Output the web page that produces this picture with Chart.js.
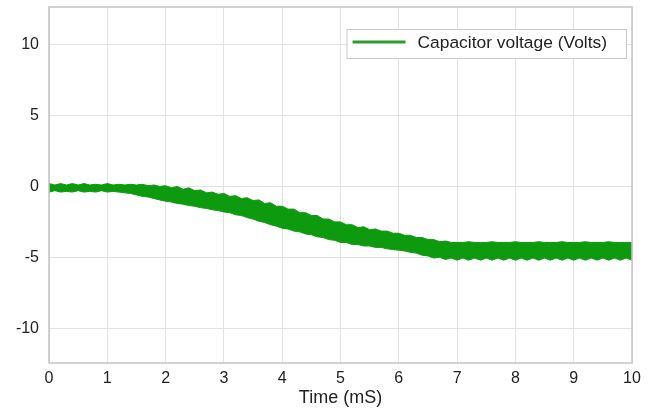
<!DOCTYPE html>
<html>
<head>
<meta charset="utf-8">
<script src="https://cdn.jsdelivr.net/npm/chart.js@4/dist/chart.umd.min.js"></script>
<style>
html,body{margin:0;padding:0;background:#fff;}
</style>
</head>
<body>
<canvas id="chart_voltage" width="655" height="412"></canvas>
<script>
// time axis (mS)
var timeMs = [0,0.1,0.2,0.3,0.4,0.5,0.6,0.7,0.8,0.9,
  1,1.1,1.2,1.3,1.4,1.5,1.6,1.7,1.8,1.9,
  2,2.1,2.2,2.3,2.4,2.5,2.6,2.7,2.8,2.9,
  3,3.1,3.2,3.3,3.4,3.5,3.6,3.7,3.8,3.9,
  4,4.1,4.2,4.3,4.4,4.5,4.6,4.7,4.8,4.9,
  5,5.1,5.2,5.3,5.4,5.5,5.6,5.7,5.8,5.9,
  6,6.1,6.2,6.3,6.4,6.5,6.6,6.7,6.8,6.9,
  7,7.1,7.2,7.3,7.4,7.5,7.6,7.7,7.8,7.9,
  8,8.1,8.2,8.3,8.4,8.5,8.6,8.7,8.8,8.9,
  9,9.1,9.2,9.3,9.4,9.5,9.6,9.7,9.8,9.9,10];
// top of the ripple band (Volts)
var upperV = [0.2,0.1,0.2,0.1,0.2,0.1,0.2,0.1,0.15,0.1,
  0.2,0.1,0.15,0.1,0.15,0.1,0.15,0.05,0.1,0,
  0.05,-0.1,0,-0.2,-0.1,-0.3,-0.25,-0.45,-0.4,-0.55,
  -0.5,-0.7,-0.65,-0.85,-0.8,-1,-0.95,-1.2,-1.15,-1.4,
  -1.4,-1.6,-1.6,-1.85,-1.85,-2.05,-2.05,-2.3,-2.3,-2.5,
  -2.5,-2.7,-2.7,-2.9,-2.85,-3.05,-3,-3.15,-3.15,-3.3,
  -3.3,-3.45,-3.45,-3.6,-3.6,-3.75,-3.75,-3.9,-3.85,-3.95,
  -3.95,-3.95,-3.9,-3.95,-3.95,-3.95,-3.9,-3.95,-3.95,-3.95,
  -3.9,-3.95,-3.95,-3.95,-3.9,-3.95,-3.95,-3.95,-3.9,-3.95,
  -3.95,-3.95,-3.9,-3.95,-3.95,-3.95,-3.9,-3.95,-3.95,-3.95,-3.95];
// bottom of the ripple band (Volts)
var lowerV = [-0.4,-0.3,-0.4,-0.35,-0.4,-0.3,-0.4,-0.35,-0.4,-0.3,
  -0.4,-0.35,-0.4,-0.45,-0.5,-0.6,-0.7,-0.75,-0.85,-0.95,
  -1.05,-1.1,-1.2,-1.25,-1.35,-1.4,-1.5,-1.55,-1.65,-1.7,
  -1.8,-1.85,-2,-2.05,-2.2,-2.3,-2.45,-2.55,-2.7,-2.8,
  -2.95,-3,-3.15,-3.2,-3.35,-3.4,-3.55,-3.6,-3.75,-3.8,
  -3.95,-3.95,-4.1,-4.1,-4.2,-4.2,-4.3,-4.3,-4.4,-4.45,
  -4.5,-4.55,-4.65,-4.7,-4.85,-4.9,-5.05,-5,-5.15,-5.05,
  -5.2,-5.05,-5.2,-5.05,-5.2,-5.05,-5.2,-5.05,-5.2,-5.05,
  -5.2,-5.05,-5.2,-5.05,-5.2,-5.05,-5.2,-5.05,-5.2,-5.05,
  -5.2,-5.05,-5.2,-5.05,-5.2,-5.05,-5.2,-5.05,-5.2,-5.05,-5.2];
var xTicks = [0,1,2,3,4,5,6,7,8,9,10];
var yTicks = [-10,-5,0,5,10];
var seriesLabel = "Capacitor voltage (Volts)";
var green = "#0e9a0e";
var fontFamily = '"Liberation Sans", Arial, sans-serif';

function toPoints(xs, ys){
  var pts = [];
  for (var i = 0; i < xs.length; i++) pts.push({x: xs[i], y: ys[i]});
  return pts;
}

// frame round the plot + legend box in the upper right
var framePlugin = {
  id: 'frame',
  afterDraw: function(chart){
    var ctx = chart.ctx, a = chart.chartArea;
    ctx.save();
    ctx.strokeStyle = '#c4c4c4';
    ctx.lineWidth = 1.5;
    ctx.strokeRect(a.left, a.top, a.right - a.left, a.bottom - a.top);

    ctx.font = '17.4px ' + fontFamily;
    var tw = ctx.measureText(seriesLabel).width;
    var right = a.right - 6, top = a.top + 22, h = 29;
    var left = right - (tw + 90);
    ctx.fillStyle = '#fff';
    ctx.fillRect(left, top, right - left, h);
    ctx.strokeStyle = '#c8c8c8';
    ctx.lineWidth = 1;
    ctx.strokeRect(left + 0.5, top + 0.5, right - left, h);
    ctx.strokeStyle = '#2f9a2f';
    ctx.lineWidth = 3;
    ctx.beginPath();
    ctx.moveTo(left + 6, top + 13);
    ctx.lineTo(left + 59, top + 13);
    ctx.stroke();
    ctx.fillStyle = '#222';
    ctx.textBaseline = 'middle';
    ctx.fillText(seriesLabel, left + 71, top + 14);
    ctx.restore();
  }
};

var ctx = document.getElementById('chart_voltage').getContext('2d');
var myChart = new Chart(ctx, {
  type: 'line',
  data: {
    datasets: [{
      label: seriesLabel,
      data: toPoints(timeMs, upperV),
      borderColor: green,
      backgroundColor: green,
      borderWidth: 1,
      pointRadius: 0,
      tension: 0,
      fill: '+1'
    }, {
      label: seriesLabel + ' (min)',
      data: toPoints(timeMs, lowerV),
      borderColor: green,
      backgroundColor: green,
      borderWidth: 1,
      pointRadius: 0,
      tension: 0,
      fill: false
    }]
  },
  options: {
    responsive: false,
    animation: false,
    layout: { padding: { top: 7, right: 23, left: 0, bottom: 0 } },
    plugins: { legend: { display: false }, tooltip: { enabled: false } },
    scales: {
      x: {
        type: 'linear',
        min: 0, max: 10,
        afterBuildTicks: function(scale){ scale.ticks = xTicks.map(function(v){ return {value: v}; }); },
        afterFit: function(scale){ scale.height = 49; scale.paddingLeft = 0; scale.paddingRight = 0; },
        grid: { color: '#e2e2e2', drawTicks: false },
        border: { display: false },
        ticks: { color: '#222', padding: 6, maxRotation: 0, font: { family: fontFamily, size: 16 } },
        title: { display: true, text: 'Time (mS)', color: '#222', padding: { top: 0, bottom: 3 }, font: { family: fontFamily, size: 18 } }
      },
      y: {
        min: -12.45, max: 12.65,
        afterBuildTicks: function(scale){ scale.ticks = yTicks.map(function(v){ return {value: v}; }); },
        afterFit: function(scale){ scale.width = 49; scale.paddingTop = 0; scale.paddingBottom = 0; },
        grid: { color: '#e2e2e2', drawTicks: false },
        border: { display: false },
        ticks: { color: '#222', padding: 10, font: { family: fontFamily, size: 16 } }
      }
    }
  },
  plugins: [framePlugin]
});
</script>
</body>
</html>
